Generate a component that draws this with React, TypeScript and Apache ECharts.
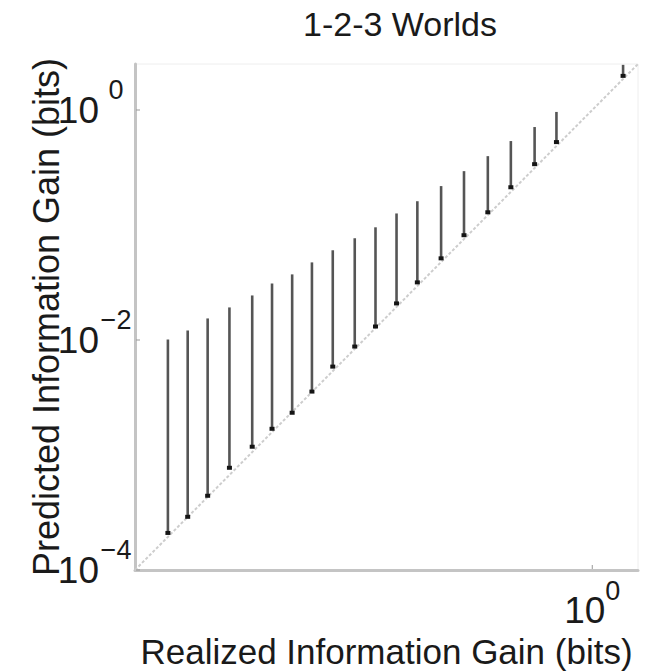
import React, { useEffect, useRef } from "react";
import * as echarts from "echarts";

// Realized information gain (x) for each test, in bits
const realizedGain = [
  1.94e-4, 2.89e-4, 4.32e-4, 6.7e-4, 1.06e-3, 1.58e-3, 2.37e-3, 3.53e-3, 5.37e-3, 8.36e-3,
  0.0127, 0.0194, 0.0295, 0.0476, 0.0755, 0.122, 0.194, 0.313, 0.486, 1.86,
];
// Lower end of each predicted-gain range
const predictedLow = [
  2.1e-4, 2.9e-4, 4.42e-4, 7.74e-4, 1.18e-3, 1.69e-3, 2.33e-3, 3.56e-3, 5.87e-3, 8.77e-3,
  0.0131, 0.0208, 0.0317, 0.0513, 0.0815, 0.129, 0.213, 0.338, 0.526, 1.98,
];
// Upper end of each predicted-gain range
const predictedHigh = [
  0.0101, 0.0121, 0.0154, 0.0192, 0.0244, 0.031, 0.0372, 0.0473, 0.0603, 0.0767,
  0.0955, 0.126, 0.161, 0.218, 0.294, 0.397, 0.537, 0.711, 0.962, 2.47,
];
// Reference line y = x
const identityLine = [1e-4, 2.512];
// Axis limits
const axisMin = 1e-4;
const axisMax = 2.512;
// Tick positions (as powers of ten) that are marked and labelled
const xTickExponents = [0];
const yTickExponents = [-4, -2, 0];

const FONT = "Liberation Sans, Arial, Helvetica, sans-serif";

const expOf = (v: number) => Math.round(Math.log10(v));
const sup = (e: number) => (e < 0 ? "\u2212" + Math.abs(e) : String(e));

// "10" plus a raised exponent
const baseStyle = {
  fontSize: 37,
  fontFamily: FONT,
  color: "#1a1a1a",
  lineHeight: 37,
  verticalAlign: "bottom",
};
const supStyle = {
  fontSize: 27,
  fontFamily: FONT,
  color: "#1a1a1a",
  lineHeight: 27,
  verticalAlign: "bottom",
  padding: [0, 0, 25, 0],
};
const xRich = { b: baseStyle, s: supStyle };
const yRich = { b: baseStyle, s: { ...supStyle, width: 34, align: "left" } };

export default function App() {
  const ref = useRef<HTMLDivElement>(null);

  useEffect(() => {
    document.body.style.margin = "0";
    if (!ref.current) return;
    const chart = echarts.init(ref.current, undefined, { renderer: "svg" });

    const segData = realizedGain.map((x, i) => [x, predictedLow[i], predictedHigh[i]]);
    // tick marks: [x, y, direction] — direction 0 = on the y axis, 1 = on the x axis
    const tickData = [
      ...yTickExponents.map((e) => [axisMin, Math.pow(10, e), 0]),
      ...xTickExponents.map((e) => [Math.pow(10, e), axisMin, 1]),
    ];

    chart.setOption({
      animation: false,
      backgroundColor: "#ffffff",
      title: {
        text: "1-2-3 Worlds",
        left: 395,
        top: 2,
        textAlign: "center",
        textStyle: { fontSize: 34, fontWeight: "normal", fontFamily: FONT, color: "#1a1a1a" },
      },
      grid: {
        left: 135,
        right: 14,
        top: 64,
        bottom: 101,
        outerBoundsMode: "none",
        containLabel: false,
        show: true,
        borderColor: "#eeeeee",
        borderWidth: 1,
        backgroundColor: "transparent",
      },
      xAxis: {
        type: "log",
        min: axisMin,
        max: axisMax,
        logBase: 10,
        name: "Realized Information Gain (bits)",
        nameLocation: "middle",
        nameGap: 64,
        nameMoveOverlap: false,
        nameTextStyle: { fontSize: 35, fontFamily: FONT, color: "#1a1a1a", lineHeight: 34 },
        axisLine: { show: true, lineStyle: { color: "#c4c4c4", width: 3 } },
        axisTick: { show: false },
        axisLabel: {
          margin: 22,
          formatter: (v: number) => {
            const e = expOf(v);
            return xTickExponents.includes(e) ? `{b|10}{s|${sup(e)}}` : "";
          },
          rich: xRich,
        },
        splitLine: { show: false },
        minorTick: { show: false },
      },
      yAxis: {
        type: "log",
        min: axisMin,
        max: axisMax,
        logBase: 10,
        name: "Predicted Information Gain (bits)",
        nameLocation: "middle",
        nameGap: 72,
        nameMoveOverlap: false,
        nameRotate: 90,
        nameTextStyle: { fontSize: 36, fontFamily: FONT, color: "#1a1a1a", lineHeight: 34 },
        axisLine: { show: true, lineStyle: { color: "#c4c4c4", width: 3 } },
        axisTick: { show: false },
        axisLabel: {
          margin: 2,
          formatter: (v: number) => {
            const e = expOf(v);
            return yTickExponents.includes(e) ? `{b|10}{s|${sup(e)}}` : "";
          },
          rich: yRich,
        },
        splitLine: { show: false },
        minorTick: { show: false },
      },
      series: [
        {
          type: "line",
          data: [
            [identityLine[0], identityLine[0]],
            [identityLine[1], identityLine[1]],
          ],
          symbol: "none",
          silent: true,
          clip: true,
          lineStyle: { color: "#cdcdcd", width: 2, type: [3, 2] },
          z: 1,
        },
        {
          type: "custom",
          data: tickData,
          encode: { x: 0, y: 1 },
          clip: false,
          silent: true,
          z: 3,
          renderItem: (_params: any, api: any) => {
            const p = api.coord([api.value(0), api.value(1)]);
            const onY = api.value(2) === 0;
            return {
              type: "line",
              shape: onY
                ? { x1: p[0] + 1, y1: p[1], x2: p[0] + 5, y2: p[1] }
                : { x1: p[0], y1: p[1] - 1, x2: p[0], y2: p[1] - 5 },
              style: { stroke: "#999999", lineWidth: 1 },
            };
          },
        },
        {
          type: "custom",
          data: segData,
          encode: { x: 0, y: [1, 2] },
          clip: true,
          z: 2,
          renderItem: (_params: any, api: any) => {
            const x = api.value(0);
            const lo = api.coord([x, api.value(1)]);
            const hi = api.coord([x, api.value(2)]);
            return {
              type: "group",
              children: [
                {
                  type: "line",
                  shape: { x1: lo[0], y1: lo[1], x2: hi[0], y2: hi[1] },
                  style: { stroke: "#555555", lineWidth: 2.6 },
                },
                {
                  type: "rect",
                  shape: { x: lo[0] - 2.5, y: lo[1] - 2, width: 5, height: 4 },
                  style: { fill: "#151515" },
                },
              ],
            };
          },
        },
      ],
    });

    return () => chart.dispose();
  }, []);

  return <div ref={ref} style={{ width: 652, height: 671 }} />;
}
